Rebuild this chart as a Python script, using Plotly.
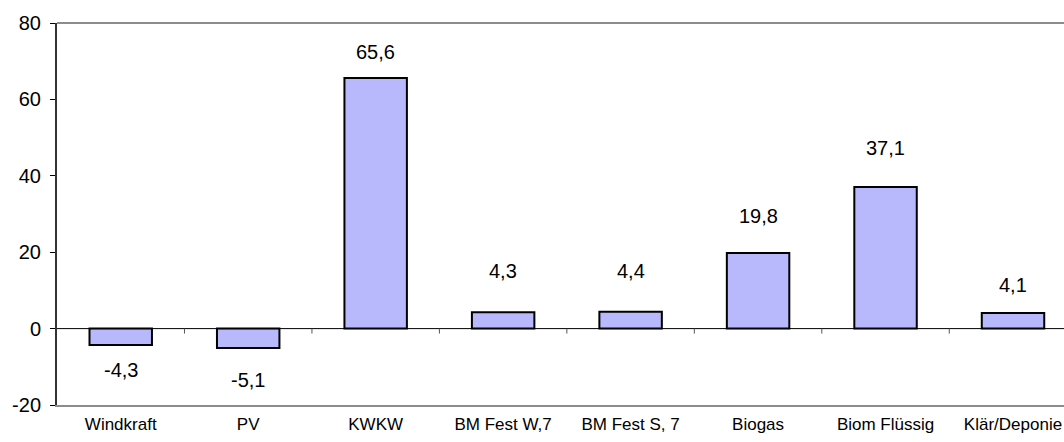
import plotly.graph_objects as go

categories = ["Windkraft", "PV", "KWKW", "BM Fest W,7", "BM Fest S, 7", "Biogas", "Biom Flüssig", "Klär/Deponie"]
values = [-4.3, -5.1, 65.6, 4.3, 4.4, 19.8, 37.1, 4.1]
value_labels = ["-4,3", "-5,1", "65,6", "4,3", "4,4", "19,8", "37,1", "4,1"]
label_shift_px = [-25, -32, 26, 41, 41, 37, 39, 28]
y_ticks = [-20, 0, 20, 40, 60, 80]
y_tick_labels = ["-20", "0", "20", "40", "60", "80"]

x_idx = list(range(len(categories)))

fig = go.Figure()
fig.add_trace(go.Bar(
    x=x_idx, y=values, width=0.49,
    marker=dict(color="#B8B8FC", line=dict(color="#000000", width=2)),
    hoverinfo="skip",
))

for xi, v, t, s in zip(x_idx, values, value_labels, label_shift_px):
    fig.add_annotation(x=xi, y=v, text=t, showarrow=False, yshift=s,
                       xanchor="center", yanchor="middle",
                       font=dict(family="Liberation Sans, Arial", size=20, color="#000"))

# zero line and boundary ticks
fig.add_shape(type="line", xref="paper", yref="y", x0=0, x1=1, y0=0, y1=0,
              line=dict(color="#000", width=1))
for i in range(len(categories) - 1):
    fig.add_shape(type="line", xref="x", yref="y", x0=i + 0.5, x1=i + 0.5, y0=0, y1=-1.3,
                  line=dict(color="#555", width=1))
# top border
fig.add_shape(type="line", xref="paper", yref="paper", x0=0, x1=1, y0=1, y1=1,
              line=dict(color="#8c8c8c", width=2))

fig.update_layout(
    width=1064, height=442,
    margin=dict(l=57, r=0, t=23, b=37, autoexpand=False),
    paper_bgcolor="white", plot_bgcolor="white",
    showlegend=False,
    font=dict(family="Liberation Sans, Arial", color="#000"),
)
fig.update_xaxes(
    range=[-0.5, 7.4], tickmode="array", tickvals=x_idx, ticktext=categories,
    tickfont=dict(size=17), showgrid=False, zeroline=False, automargin=False,
    showline=True, linecolor="#8c8c8c", linewidth=2, ticks="", ticklen=0,
    ticklabelstandoff=3,
)
fig.update_yaxes(
    range=[-20, 80], tickmode="array", tickvals=y_ticks, ticktext=y_tick_labels,
    automargin=False,
    tickfont=dict(size=20), showgrid=False, zeroline=False,
    showline=True, linecolor="#333", linewidth=2,
    ticks="outside", ticklen=5, tickcolor="#000", tickwidth=1,
    ticklabelstandoff=5,
)

fig.write_html(
    "out.html",
    config={"displayModeBar": False, "staticPlot": True},
    post_script="document.body.style.margin='0';document.body.style.overflow='hidden';",
)
